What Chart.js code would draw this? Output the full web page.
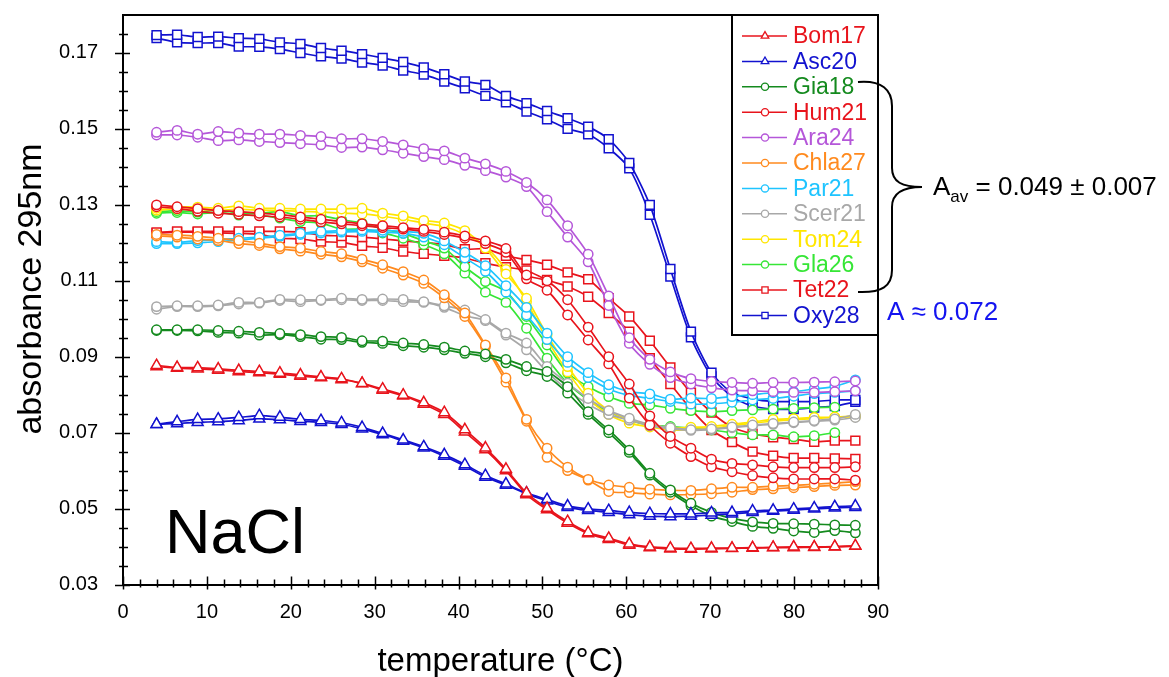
<!DOCTYPE html>
<html><head><meta charset="utf-8">
<script src="https://cdn.jsdelivr.net/npm/chart.js@4.4.1/dist/chart.umd.min.js"></script>
<style>html,body{margin:0;padding:0;background:#fff;}#wrap{width:1169px;height:677px;}</style>
</head><body><div id="wrap"><canvas id="c" width="1169" height="677"></canvas></div>
<script>
// ---------- data ----------
const temps = [4.0, 6.45, 8.9, 11.35, 13.8, 16.25, 18.7, 21.15, 23.6, 26.05, 28.5, 30.95, 33.4, 35.85, 38.3, 40.75, 43.2, 45.65, 48.1, 50.55, 53.0, 55.45, 57.9, 60.35, 62.8, 65.25, 67.7, 70.15, 72.6, 75.05, 77.5, 79.95, 82.4, 84.85, 87.3];

const bom17A = [.0877,.0872,.0871,.0868,.0864,.0861,.0857,.0852,.0847,.0842,.0830,.0815,.0799,.0779,.0753,.0708,.0660,.0604,.0541,.0501,.0466,.0437,.0422,.0407,.0399,.0396,.0395,.0396,.0396,.0397,.0398,.0399,.0399,.0400,.0402];
const bom17B = [.0874,.0870,.0868,.0865,.0861,.0858,.0854,.0849,.0845,.0840,.0829,.0812,.0797,.0775,.0748,.0702,.0655,.0600,.0537,.0497,.0462,.0434,.0419,.0404,.0397,.0394,.0393,.0394,.0395,.0396,.0397,.0397,.0398,.0399,.0401];
const asc20A = [.0722,.0729,.0735,.0736,.0740,.0745,.0741,.0735,.0732,.0726,.0714,.0698,.0681,.0663,.0642,.0616,.0587,.0565,.0541,.0524,.0507,.0499,.0495,.0490,.0487,.0486,.0486,.0489,.0490,.0494,.0496,.0499,.0502,.0505,.0507];
const asc20B = [.0722,.0724,.0727,.0729,.0732,.0736,.0734,.0730,.0727,.0722,.0710,.0695,.0678,.0660,.0638,.0612,.0583,.0562,.0539,.0520,.0503,.0495,.0490,.0484,.0480,.0479,.0480,.0483,.0486,.0490,.0493,.0496,.0499,.0502,.0503];
const gia18A = [.0971,.0971,.0971,.0969,.0967,.0964,.0961,.0958,.0953,.0951,.0942,.0941,.0936,.0932,.0925,.0915,.0907,.0893,.0874,.0861,.0821,.0755,.0707,.0654,.0593,.0549,.0514,.0490,.0474,.0465,.0461,.0460,.0459,.0457,.0456];
const gia18B = [.0969,.0969,.0968,.0964,.0962,.0957,.0958,.0953,.0946,.0945,.0938,.0935,.0929,.0925,.0918,.0909,.0900,.0884,.0863,.0848,.0804,.0748,.0700,.0648,.0588,.0543,.0508,.0480,.0466,.0453,.0448,.0441,.0437,.0442,.0436];
const hum21A = [.1300,.1295,.1290,.1285,.1282,.1278,.1274,.1268,.1262,.1256,.1250,.1245,.1240,.1235,.1228,.1218,.1205,.1185,.1115,.1100,.1050,.0978,.0900,.0828,.0744,.0690,.0659,.0630,.0619,.0615,.0610,.0608,.0608,.0608,.0610];
const hum21B = [.1295,.1290,.1283,.1278,.1275,.1271,.1268,.1262,.1255,.1250,.1245,.1240,.1236,.1230,.1222,.1212,.1198,.1175,.1105,.1075,.1010,.0944,.0881,.0791,.0720,.0672,.0637,.0610,.0597,.0587,.0581,.0578,.0578,.0578,.0575];
const ara24A = [.1491,.1496,.1486,.1493,.1489,.1486,.1486,.1483,.1480,.1474,.1474,.1467,.1458,.1448,.1442,.1423,.1408,.1388,.1359,.1313,.1245,.1170,.1060,.0950,.0893,.0860,.0842,.0835,.0832,.0830,.0832,.0832,.0833,.0834,.0836];
const ara24B = [.1484,.1484,.1478,.1469,.1471,.1467,.1464,.1461,.1458,.1451,.1452,.1445,.1436,.1427,.1419,.1404,.1390,.1373,.1348,.1282,.1215,.1150,.1035,.0935,.0880,.0845,.0828,.0818,.0812,.0810,.0808,.0806,.0806,.0808,.0810];
const chla27A = [.1222,.1220,.1217,.1212,.1206,.1199,.1190,.1186,.1177,.1171,.1157,.1142,.1124,.1102,.1063,.1015,.0931,.0844,.0735,.0659,.0609,.0577,.0562,.0556,.0551,.0548,.0548,.0552,.0556,.0556,.0559,.0561,.0564,.0567,.0571];
const chla27B = [.1218,.1215,.1210,.1206,.1198,.1193,.1184,.1178,.1170,.1163,.1150,.1133,.1115,.1093,.1055,.1006,.0927,.0833,.0730,.0635,.0600,.0575,.0545,.0542,.0538,.0536,.0537,.0539,.0543,.0550,.0552,.0555,.0558,.0561,.0562];
const par21A = [.1203,.1201,.1206,.1208,.1212,.1215,.1220,.1225,.1230,.1232,.1234,.1233,.1230,.1225,.1205,.1175,.1140,.1087,.1030,.0962,.0900,.0858,.0826,.0808,.0802,.0788,.0791,.0790,.0795,.0800,.0805,.0808,.0815,.0822,.0839];
const par21B = [.1198,.1198,.1200,.1203,.1207,.1212,.1217,.1222,.1226,.1228,.1230,.1228,.1225,.1215,.1195,.1160,.1125,.1070,.1010,.0945,.0885,.0845,.0815,.0798,.0790,.0782,.0775,.0776,.0780,.0786,.0790,.0796,.0803,.0806,.0810];
const scer21A = [.1032,.1034,.1034,.1036,.1043,.1043,.1051,.1050,.1050,.1054,.1051,.1052,.1051,.1045,.1034,.1023,.0998,.0962,.0936,.0874,.0830,.0790,.0758,.0738,.0722,.0713,.0708,.0710,.0715,.0720,.0724,.0728,.0732,.0736,.0748];
const scer21B = [.1025,.1032,.1032,.1034,.1039,.1041,.1048,.1045,.1048,.1050,.1048,.1048,.1045,.1043,.1030,.1008,.0995,.0957,.0918,.0860,.0812,.0775,.0748,.0733,.0718,.0710,.0706,.0708,.0713,.0718,.0722,.0726,.0730,.0733,.0740];
const tom24A = [.1291,.1294,.1294,.1291,.1297,.1291,.1291,.1289,.1289,.1289,.1291,.1278,.1271,.1259,.1252,.1232,.1186,.1118,.1054,.0957,.0874,.0804,.0758,.0733,.0722,.0712,.0714,.0716,.0722,.0728,.0735,.0737,.0740,.0741,.0744];
const tom24B = [.1286,.1289,.1288,.1286,.1288,.1286,.1285,.1283,.1281,.1278,.1276,.1270,.1262,.1252,.1243,.1222,.1190,.1130,.1045,.0945,.0860,.0790,.0748,.0725,.0715,.0707,.0708,.0712,.0718,.0725,.0730,.0734,.0737,.0740,.0742];
const gla26A = [.1282,.1285,.1281,.1286,.1278,.1278,.1282,.1271,.1271,.1261,.1252,.1236,.1225,.1205,.1186,.1137,.1098,.1072,.1006,.0931,.0857,.0821,.0795,.0777,.0773,.0764,.0758,.0755,.0758,.0760,.0762,.0764,.0766,.0767,null];
const gla26B = [.1278,.1280,.1276,.1280,.1273,.1272,.1265,.1256,.1252,.1236,.1236,.1226,.1212,.1195,.1171,.1120,.1070,.1043,.0975,.0896,.0830,.0786,.0755,.0733,.0720,.0716,.0712,.0707,.0700,.0694,.0694,.0689,.0692,.0700,null];
const tet22A = [.1227,.1230,.1230,.1230,.1230,.1230,.1230,.1228,.1220,.1218,.1215,.1210,.1205,.1201,.1195,.1183,.1184,.1166,.1155,.1142,.1122,.1104,.1054,.1006,.0942,.0872,.0805,.0753,.0714,.0697,.0688,.0683,.0676,.0679,.0679];
const tet22B = [.1225,.1228,.1228,.1226,.1225,.1222,.1212,.1210,.1203,.1201,.1192,.1187,.1177,.1171,.1166,.1160,.1146,.1136,.1127,.1102,.1085,.1058,.1015,.0966,.0896,.0828,.0762,.0707,.0675,.0650,.0639,.0633,.0633,.0632,.0631];
const oxy28A = [.1747,.1748,.1742,.1743,.1739,.1737,.1728,.1724,.1713,.1706,.1697,.1687,.1676,.1662,.1644,.1625,.1616,.1587,.1568,.1547,.1528,.1506,.1473,.1410,.1300,.1131,.0966,.0858,.0805,.0789,.0782,.0782,.0782,.0786,.0786];
const oxy28B = [.1739,.1728,.1726,.1726,.1717,.1716,.1710,.1700,.1691,.1685,.1675,.1667,.1654,.1643,.1625,.1607,.1587,.1570,.1546,.1525,.1500,.1486,.1449,.1396,.1274,.1111,.0951,.0848,.0795,.0770,.0762,.0762,.0766,.0770,.0781];

const seriesNames = ['Bom17','Asc20','Gia18','Hum21','Ara24','Chla27','Par21','Scer21','Tom24','Gla26','Tet22','Oxy28'];
const seriesValues = [[bom17A,bom17B],[asc20A,asc20B],[gia18A,gia18B],[hum21A,hum21B],[ara24A,ara24B],[chla27A,chla27B],[par21A,par21B],[scer21A,scer21B],[tom24A,tom24B],[gla26A,gla26B],[tet22A,tet22B],[oxy28A,oxy28B]];
const yTickValues = [0.03, 0.05, 0.07, 0.09, 0.11, 0.13, 0.15, 0.17];
const yTickLabels = ['0.03','0.05','0.07','0.09','0.11','0.13','0.15','0.17'];
const xTickValues = [0, 10, 20, 30, 40, 50, 60, 70, 80, 90];
const xTickLabels = ['0','10','20','30','40','50','60','70','80','90'];
const avText = ['A', 'av', ' = 0.049 \u00b1 0.007'];
const oxyText = 'A \u2248 0.072';

// ---------- styles ----------
const seriesColors = ['#e8141c','#1212cf','#148a1e','#e8141c','#b557d9','#ff8a1e','#1ec4ff','#a8a8a8','#ffe600','#36e636','#e8141c','#1212cf'];
const seriesMarkers = ['triangle','triangle','circle','circle','circle','circle','circle','circle','circle','circle','rect','rect'];
const FONT = "'Liberation Sans', Arial, Helvetica, sans-serif";

function markerRadius(style){ return style==='circle'?4.7:(style==='rect'?6.3:6.3); }

const datasets = [];
seriesNames.forEach((name, k) => {
  seriesValues[k].forEach((vals, j) => {
    datasets.push({
      label: name + (j ? ' (2)' : ''),
      data: temps.map((t, i) => ({x: t, y: vals[i]})),
      borderColor: seriesColors[k],
      backgroundColor: '#ffffff',
      pointBackgroundColor: '#ffffff',
      pointBorderColor: seriesColors[k],
      pointStyle: seriesMarkers[k],
      pointRadius: markerRadius(seriesMarkers[k]),
      pointBorderWidth: 1.5,
      borderWidth: 1.7,
      tension: 0.25,
      spanGaps: false,
      fill: false
    });
  });
});

function zeroPad(s) { s.paddingTop = 0; s.paddingBottom = 0; s.paddingLeft = 0; s.paddingRight = 0; }

const decor = {
  id: 'decor',
  afterDraw(chart) {
    const ctx = chart.ctx, a = chart.chartArea, xs = chart.scales.x, ys = chart.scales.y;
    ctx.save();
    ctx.strokeStyle = '#000';
    ctx.lineWidth = 2;
    ctx.beginPath();
    ctx.moveTo(a.left, a.top); ctx.lineTo(a.right, a.top); ctx.lineTo(a.right, a.bottom);
    ctx.stroke();
    // ticks
    ctx.lineWidth = 1.5;
    for (let k = 0; k <= 45; k++) {
      const v = k * 2, px = Math.round(xs.getPixelForValue(v)) + 0.5, major = v % 10 === 0;
      ctx.beginPath(); ctx.moveTo(px, a.bottom - (major ? 8 : 5)); ctx.lineTo(px, a.bottom + (major ? 5 : 3)); ctx.stroke();
    }
    for (let k = 0; k < 30; k++) {
      const v = 0.03 + k * 0.005, py = Math.round(ys.getPixelForValue(v)) + 0.5, major = k % 4 === 0;
      ctx.beginPath(); ctx.moveTo(a.left - (major ? 8 : 4), py); ctx.lineTo(a.left + (major ? 7 : 5), py); ctx.stroke();
    }
    // y axis title
    ctx.save();
    ctx.translate(32, 289);
    ctx.rotate(-Math.PI / 2);
    ctx.fillStyle = '#000';
    ctx.font = '34px ' + FONT;
    ctx.textAlign = 'center';
    ctx.textBaseline = 'middle';
    ctx.fillText('absorbance 295nm', 0, 0);
    ctx.restore();
    // legend box
    const lx = 732, ly = a.top, lw = a.right - lx, lh = 335 - a.top;
    ctx.fillStyle = '#fff';
    ctx.fillRect(lx, ly, lw, lh);
    ctx.lineWidth = 2;
    ctx.strokeStyle = '#000';
    ctx.strokeRect(lx, ly, lw, lh);
    ctx.font = '23px ' + FONT;
    ctx.textBaseline = 'middle';
    ctx.textAlign = 'left';
    seriesNames.forEach((name, k) => {
      const y = 36 + 25.4 * k;
      ctx.strokeStyle = seriesColors[k];
      ctx.lineWidth = 1.5;
      ctx.beginPath(); ctx.moveTo(742, y); ctx.lineTo(787, y); ctx.stroke();
      ctx.fillStyle = '#fff';
      ctx.lineWidth = 1.3;
      Chart.helpers.drawPoint(ctx, {pointStyle: seriesMarkers[k], rotation: 0,
        radius: seriesMarkers[k] === 'circle' ? 3.6 : 4.4, borderWidth: 1.3}, 765, y);
      ctx.fillStyle = seriesColors[k];
      ctx.fillText(name, 793, y + 1);
    });
    // brace
    ctx.strokeStyle = '#000';
    ctx.lineWidth = 2;
    ctx.beginPath();
    ctx.moveTo(858, 82);
    ctx.bezierCurveTo(882, 80, 892, 90, 892, 106);
    ctx.lineTo(892, 168);
    ctx.bezierCurveTo(892, 182, 902, 187, 922, 187);
    ctx.moveTo(922, 187);
    ctx.bezierCurveTo(902, 187, 892, 193, 892, 207);
    ctx.lineTo(892, 270);
    ctx.bezierCurveTo(892, 286, 882, 293, 858, 292);
    ctx.stroke();
    // annotation texts
    ctx.textBaseline = 'alphabetic';
    ctx.fillStyle = '#000';
    let x = 933;
    ctx.font = '26px ' + FONT; ctx.fillText(avText[0], x, 195); x += ctx.measureText(avText[0]).width;
    ctx.font = '17px ' + FONT; ctx.fillText(avText[1], x, 202); x += ctx.measureText(avText[1]).width;
    ctx.font = '26px ' + FONT; ctx.fillText(avText[2], x, 195);
    ctx.fillStyle = '#1414f0';
    ctx.fillText(oxyText, 887, 320);
    // NaCl
    ctx.fillStyle = '#000';
    ctx.font = '63px ' + FONT;
    ctx.fillText('NaCl', 165, 553);
    ctx.restore();
  }
};

new Chart(document.getElementById('c'), {
  type: 'line',
  data: { datasets },
  options: {
    responsive: false,
    animation: false,
    events: [],
    layout: { padding: { left: 0, right: 291, top: 15, bottom: 0 } },
    plugins: { legend: { display: false }, tooltip: { enabled: false } },
    scales: {
      x: {
        type: 'linear', min: 0, max: 90,
        afterBuildTicks(s) { s.ticks = xTickValues.map(v => ({ value: v })); },
        afterFit(s) { s.height = 92.5; zeroPad(s); },
        grid: { display: false },
        border: { display: true, color: '#000', width: 2 },
        ticks: { color: '#000', font: { family: FONT, size: 20 }, padding: 8, maxRotation: 0, autoSkip: false,
          callback: (v) => xTickLabels[xTickValues.indexOf(Math.round(v))] },
        title: { display: true, text: 'temperature (\u00b0C)', color: '#000', font: { family: FONT, size: 33 }, padding: { top: 0, bottom: -5 } }
      },
      y: {
        type: 'linear', min: 0.03, max: 0.18,
        afterBuildTicks(s) { s.ticks = yTickValues.map(v => ({ value: v })); },
        afterFit(s) { s.width = 123; zeroPad(s); },
        grid: { display: false },
        border: { display: true, color: '#000', width: 2 },
        ticks: { color: '#000', font: { family: FONT, size: 20 }, padding: 17, autoSkip: false,
          callback: (v) => yTickLabels[yTickValues.findIndex(t => Math.abs(t - v) < 1e-6)] }
      }
    }
  },
  plugins: [decor]
});
</script></body></html>
